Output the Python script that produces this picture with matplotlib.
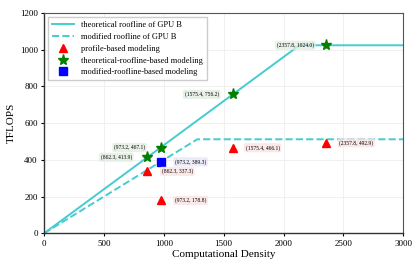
import matplotlib
matplotlib.use('Agg')
import matplotlib.pyplot as plt
import numpy as np

plt.rcParams['font.family'] = ['Liberation Serif', 'DejaVu Serif']

# roofline parameters of GPU B
bw_theo, peak_theo = 0.48, 1024.0
bw_mod, peak_mod = 0.40, 512.0
x_max = 3000

# modeled points
prof_x = [862.3, 973.2, 1575.4, 2357.8]
prof_y = [337.3, 178.8, 466.1, 492.9]
theo_x = [862.3, 973.2, 1575.4, 2357.8]
theo_y = [413.9, 467.1, 756.2, 1024.0]
mod_x = [973.2]
mod_y = [389.3]

xs = np.array([0, peak_theo / bw_theo, x_max])
xm = np.array([0, peak_mod / bw_mod, x_max])

fig = plt.figure(figsize=(4.2, 2.7), dpi=100)
ax = fig.add_axes([0.105, 0.136, 0.855, 0.816])

ax.plot(xs, np.minimum(bw_theo * xs, peak_theo), '-', color='#45CCD0', lw=1.4,
        label='theoretical roofline of GPU B')
ax.plot(xm, np.minimum(bw_mod * xm, peak_mod), '--', color='#45CCD0', lw=1.4,
        label='modified roofline of GPU B')
ax.plot(prof_x, prof_y, '^', color='red', ms=6, ls='none', label='profile-based modeling')
ax.plot(theo_x, theo_y, '*', color='green', ms=8, ls='none',
        label='theoretical-roofline-based modeling')
ax.plot(mod_x, mod_y, 's', color='blue', ms=5.5, ls='none',
        label='modified-roofline-based modeling')

def tag(x, y, side, fc):
    dx = -31 if side == 'l' else 30
    ax.annotate('(%.1f, %.1f)' % (x, y), (x, y), xytext=(dx, 0),
                textcoords='offset pixels', ha='center', va='center', fontsize=4,
                bbox=dict(boxstyle='round,pad=0.3', fc=fc, ec='none', alpha=0.8))

for x, y in zip(prof_x, prof_y):
    tag(x, y, 'r', '#FBE3E3')
for x, y in zip(theo_x, theo_y):
    tag(x, y, 'l', '#E3EEE3')
for x, y in zip(mod_x, mod_y):
    tag(x, y, 'r', '#E6E6F8')

ax.set_xlim(0, x_max)
ax.set_ylim(0, 1200)
ax.set_xticks(np.arange(0, 3001, 500))
ax.set_yticks(np.arange(0, 1201, 200))
ax.grid(True, color='#EEEEEE', lw=0.6)
ax.set_axisbelow(True)
ax.tick_params(labelsize=6.5, length=2.5, width=0.8, pad=2)
ax.set_xlabel('Computational Density', fontsize=8, labelpad=2)
ax.set_ylabel('TFLOPS', fontsize=8, labelpad=3)
for s in ['left', 'bottom']:
    ax.spines[s].set_color('#333333')
    ax.spines[s].set_linewidth(1.0)
for s in ['top', 'right']:
    ax.spines[s].set_color('#555555')
    ax.spines[s].set_linewidth(0.8)

ax.legend(loc='upper left', fontsize=6, frameon=True, framealpha=1, edgecolor='#CCCCCC',
          handlelength=2.6, borderpad=0.5, labelspacing=0.45, fancybox=False)

fig.savefig('out.png', dpi=100)
